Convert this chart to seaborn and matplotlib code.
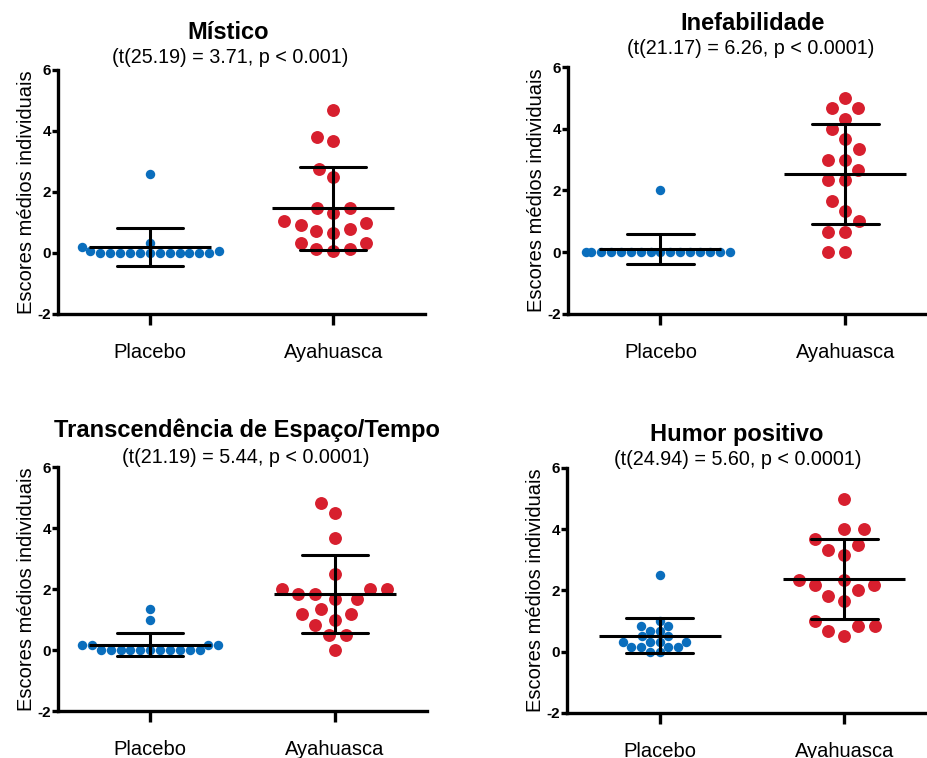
import pandas as pd
import matplotlib.pyplot as plt
import seaborn as sns

# Dados (escores medios individuais)
groups = ["Placebo", "Ayahuasca"]
titles = ["Místico", "Inefabilidade", "Transcendência de Espaço/Tempo", "Humor positivo"]
stats = ["(t(25.19) = 3.71, p < 0.001)",
         "(t(21.17) = 6.26, p < 0.0001)",
         "(t(21.19) = 5.44, p < 0.0001)",
         "(t(24.94) = 5.60, p < 0.0001)"]

mistico_placebo = [2.6, 0.33, 0.2, 0.05, 0.05, 0, 0, 0, 0, 0, 0, 0, 0, 0, 0, 0, 0]
mistico_aya = [4.67, 3.8, 3.67, 2.75, 2.48, 1.47, 1.47, 1.31, 1.04, 0.93, 0.98,
               0.79, 0.71, 0.65, 0.33, 0.33, 0.13, 0.05, 0.13]

inef_placebo = [2.0, 0, 0, 0, 0, 0, 0, 0, 0, 0, 0, 0, 0, 0, 0, 0, 0]
inef_aya = [5.0, 4.67, 4.67, 4.33, 4.0, 3.67, 3.33, 3.0, 3.0, 2.67, 2.33, 2.33,
            1.67, 1.33, 1.0, 0.67, 0.67, 0, 0]

transc_placebo = [1.33, 1.0, 0.17, 0.17, 0.17, 0.17, 0, 0, 0, 0, 0, 0, 0, 0, 0, 0, 0]
transc_aya = [4.83, 4.5, 3.67, 2.5, 2.0, 2.0, 2.0, 1.83, 1.83, 1.67, 1.67, 1.33,
              1.17, 1.17, 1.0, 0.83, 0.5, 0.5, 0]

humor_placebo = [2.5, 1.0, 0.83, 0.83, 0.67, 0.67, 0.5, 0.5, 0.33, 0.33, 0.33, 0.33,
                 0.17, 0.17, 0.17, 0.17, 0, 0]
humor_aya = [5.0, 4.0, 4.0, 3.67, 3.5, 3.33, 3.17, 2.33, 2.33, 2.17, 2.17, 2.0,
             1.83, 1.67, 1.0, 0.83, 0.83, 0.67, 0.5]

panels = [(mistico_placebo, mistico_aya), (inef_placebo, inef_aya),
          (transc_placebo, transc_aya), (humor_placebo, humor_aya)]

blue = "#0A6EBD"
red = "#D71F2E"

sns.set_style("ticks", {"axes.edgecolor": "black", "text.color": "black",
                        "xtick.color": "black", "ytick.color": "black",
                        "axes.labelcolor": "black"})
plt.rcParams["font.family"] = ["Liberation Sans", "DejaVu Sans"]
plt.rcParams["axes.unicode_minus"] = False

fig = plt.figure(figsize=(9.27, 7.58), dpi=100)

# posicoes dos eixos e dos titulos
boxes = [[0.0626, 0.5858, 0.396, 0.322],
         [0.6127, 0.5858, 0.399, 0.3258],
         [0.0626, 0.0620, 0.398, 0.3219],
         [0.6117, 0.0594, 0.399, 0.3232]]
title_pos = [(0.463, 1.152, 0.469, 1.05),
             (0.50, 1.176, 0.495, 1.074),
             (0.512, 1.152, 0.51, 1.037),
             (0.459, 1.135, 0.462, 1.033)]

for i, (pl, ay) in enumerate(panels):
    ax = fig.add_axes(boxes[i])
    df = pd.DataFrame({"grupo": ["Placebo"] * len(pl) + ["Ayahuasca"] * len(ay),
                       "escore": pl + ay})

    sns.swarmplot(data=df[df["grupo"] == "Placebo"], x="grupo", y="escore", order=groups,
                  color=blue, size=6.8, linewidth=0, ax=ax, zorder=2, warn_thresh=1)
    sns.swarmplot(data=df[df["grupo"] == "Ayahuasca"], x="grupo", y="escore", order=groups,
                  color=red, size=10.5, linewidth=1.2, edgecolor="white",
                  ax=ax, zorder=2, warn_thresh=1)
    # media +- DP
    sns.pointplot(data=df, x="grupo", y="escore", order=groups, errorbar="sd",
                  capsize=0.36, color="black", linestyle="none", marker="_",
                  markersize=88, markeredgewidth=2.2, err_kws={"linewidth": 2.2},
                  ax=ax, zorder=3)

    ax.set_xlim(-0.5, 1.5)
    ax.set_ylim(-2, 6)
    ax.set_yticks([-2, 0, 2, 4, 6])
    sns.despine(ax=ax)
    for side in ["left", "bottom"]:
        ax.spines[side].set_linewidth(2.4)

    ax.tick_params(axis="x", length=8, width=2.4, pad=13, labelsize=14.5)
    ax.tick_params(axis="y", length=4, width=2.4, pad=1, labelsize=11)
    for lbl in ax.get_yticklabels():
        lbl.set_fontweight("bold")

    ax.set_xlabel("")
    ax.set_ylabel("Escores médios individuais", fontsize=14.5)
    ax.yaxis.set_label_coords(-0.06, 0.5)

    tx, ty, sx, sy = title_pos[i]
    ax.text(tx, ty, titles[i], transform=ax.transAxes, ha="center", va="center",
            fontsize=17, fontweight="bold")
    ax.text(sx, sy, stats[i], transform=ax.transAxes, ha="center", va="center",
            fontsize=14.2)

fig.savefig("out.png", dpi=100)
